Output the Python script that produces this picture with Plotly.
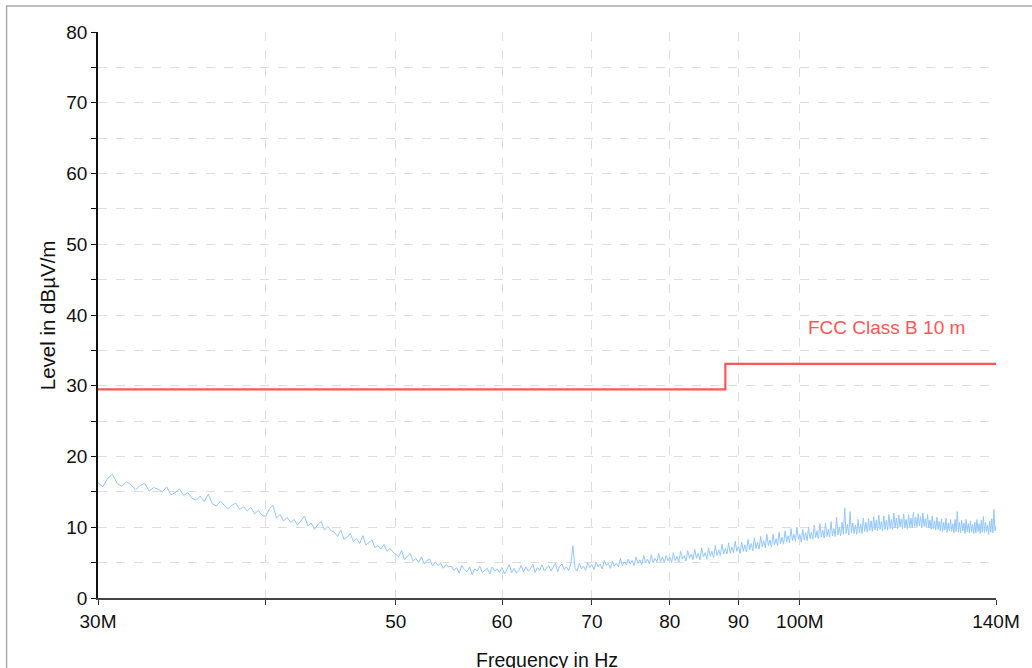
import numpy as np
import plotly.graph_objects as go

# ---- data ----
freq_start_mhz = 30.0
freq_stop_mhz = 140.0
freq_step_mhz = 0.25

level_dbuv = [
    16.3, 15.7, 16.9, 17.5, 16.2, 15.8, 16.4, 16.0, 15.3, 15.9, 16.2, 15.1, 15.6, 15.4, 15.0, 15.7, 14.6, 14.9, 15.4, 14.5,
    14.9, 14.1, 13.8, 14.4, 13.6, 14.7, 13.3, 13.0, 13.7, 13.2, 12.6, 13.1, 13.4, 12.5, 12.9, 12.3, 12.8, 11.9, 12.4, 11.7,
    11.5, 12.6, 13.1, 11.3, 11.8, 10.9, 11.4, 10.7, 11.1, 10.3, 10.9, 11.6, 10.2, 10.6, 9.7, 10.4, 10.8, 9.6, 10.1, 9.5,
    9.3, 8.7, 9.6, 8.3, 8.6, 9.1, 8.0, 8.4, 7.7, 8.8, 7.5, 7.9, 8.2, 7.1, 7.4, 6.9, 7.6, 6.6, 7.0, 6.5,
    6.2, 5.8, 6.7, 5.4, 5.9, 6.3, 5.2, 5.6, 5.0, 5.8, 4.8, 5.3, 5.5, 4.5, 5.1, 4.6, 4.9, 4.2, 4.7, 4.4,
    4.5, 3.9, 4.3, 3.5, 4.6, 4.0, 3.7, 4.4, 3.3, 4.1, 3.8, 4.5, 3.6, 3.9, 4.2, 3.4, 4.4, 3.8, 4.1, 3.6,
    4.3, 3.4, 4.0, 4.7, 3.6, 4.2, 3.5, 3.9, 4.6, 3.7, 4.4, 3.8, 4.1, 4.8, 3.6, 4.3, 3.9, 4.7, 3.8, 4.2,
    4.6, 3.8, 4.3, 4.9, 3.7, 4.5, 4.8, 4.0, 4.4, 3.9, 4.7, 7.4, 4.2, 3.8, 4.9, 4.1, 4.5, 3.9, 5.0, 4.3,
    4.7, 4.0, 5.1, 4.4, 4.8, 4.1, 5.3, 4.6, 4.9, 4.2, 5.2, 4.5, 4.9, 4.4, 5.6, 4.6, 5.1, 4.7, 5.5, 4.8,
    5.3, 4.6, 5.8, 4.9, 5.4, 4.7, 6.0, 5.0, 5.5, 4.8, 6.1, 5.0, 5.6, 5.1, 6.3, 5.1, 5.8, 5.0, 6.0, 5.3,
    5.8, 5.0, 6.4, 5.3, 5.9, 5.1, 6.6, 5.5, 6.0, 5.2, 6.7, 5.6, 6.2, 5.4, 6.9, 5.6, 6.3, 5.4, 7.1, 5.8,
    6.4, 5.5, 7.1, 5.9, 6.6, 5.7, 7.4, 6.0, 6.8, 6.0, 7.6, 6.2, 7.0, 6.2, 7.8, 6.3, 7.2, 6.4, 8.0, 6.6,
    7.3, 6.3, 7.9, 6.6, 7.5, 6.5, 8.3, 6.8, 7.7, 6.7, 8.5, 7.0, 7.9, 6.9, 8.7, 7.2, 8.1, 7.1, 9.0, 7.4,
    8.2, 7.2, 9.0, 7.5, 8.4, 7.4, 9.3, 7.7, 8.6, 7.6, 9.5, 7.9, 8.8, 7.8, 9.8, 8.1, 9.0, 8.0, 10.0, 8.3,
    9.0, 7.9, 9.7, 8.2, 9.2, 8.1, 10.0, 8.4, 9.3, 8.3, 10.3, 8.5, 9.5, 8.4, 10.5, 8.6, 9.6, 8.5, 10.6, 8.7,
    9.7, 8.6, 10.8, 8.8, 9.8, 8.7, 11.4, 8.9, 10.0, 8.8, 10.7, 9.0, 12.7, 9.1, 10.4, 8.9, 12.2, 9.2, 10.6, 9.1,
    10.3, 9.0, 11.1, 9.2, 10.5, 9.1, 11.3, 9.4, 10.7, 9.3, 11.2, 9.5, 10.9, 9.4, 11.5, 9.6, 11.0, 9.5, 11.7, 9.7,
    10.8, 9.5, 11.6, 9.7, 11.0, 9.6, 11.8, 9.8, 11.1, 9.7, 12.0, 9.9, 11.3, 9.8, 11.7, 10.0, 11.2, 9.8, 11.9, 9.9,
    11.1, 9.8, 11.8, 10.0, 11.3, 9.9, 12.1, 10.1, 11.4, 10.0, 11.9, 10.2, 11.5, 9.9, 12.0, 10.1, 11.2, 10.0, 11.8, 9.9,
    11.0, 9.7, 11.6, 9.8, 10.9, 9.6, 11.4, 9.7, 10.8, 9.5, 11.2, 9.4, 10.7, 9.6, 11.3, 9.3, 10.6, 9.5, 11.1, 9.4,
    10.5, 9.2, 11.1, 9.4, 12.2, 9.3, 10.7, 9.2, 11.0, 9.5, 10.6, 9.1, 11.1, 9.4, 10.5, 9.2, 10.9, 9.3, 10.4, 9.1,
    10.7, 9.2, 11.1, 9.4, 10.5, 9.1, 11.0, 9.3, 11.5, 9.2, 10.7, 9.4, 10.3, 9.0, 10.9, 9.3, 11.2, 9.2, 12.5, 9.5,
    10.2,
]

limit_freq_mhz = [30, 88, 88, 140]
limit_level = [29.5, 29.5, 33.1, 33.1]
limit_name = "FCC Class B 10 m"

x_tick_mhz = [30, 40, 50, 60, 70, 80, 90, 100, 140]
x_tick_text = ["30M", "", "50", "60", "70", "80", "90", "100M", "140M"]
y_tick_vals = [0, 10, 20, 30, 40, 50, 60, 70, 80]

# ---- figure ----
freq_hz = np.arange(len(level_dbuv)) * freq_step_mhz * 1e6 + freq_start_mhz * 1e6

fig = go.Figure()
fig.add_trace(go.Scatter(
    x=freq_hz, y=level_dbuv, mode="lines",
    line=dict(color="#93c6ff", width=1), showlegend=False, hoverinfo="skip"))
fig.add_trace(go.Scatter(
    x=[f * 1e6 for f in limit_freq_mhz], y=limit_level, mode="lines",
    line=dict(color="#ff5557", width=2.2), showlegend=False, name=limit_name))

font = "Liberation Sans, Arial, sans-serif"

fig.update_xaxes(
    type="log",
    range=[np.log10(freq_start_mhz * 1e6), np.log10(freq_stop_mhz * 1e6)],
    tickvals=[v * 1e6 for v in x_tick_mhz], ticktext=x_tick_text,
    ticks="outside", ticklen=5, tickcolor="#333", tickwidth=1,
    showline=True, linecolor="#444", linewidth=1.5,
    showgrid=True, gridcolor="#dedede", griddash="dash", gridwidth=1,
    zeroline=False, tickfont=dict(family=font, size=19, color="#111"),
)
fig.update_yaxes(
    range=[0, 80], tickvals=y_tick_vals,
    ticks="outside", ticklen=5, tickcolor="#111", tickwidth=1,
    showline=True, linecolor="#111", linewidth=1.5,
    showgrid=True, gridcolor="#dedede", griddash="dash", gridwidth=1,
    minor=dict(dtick=5, ticks="outside", ticklen=5, tickcolor="#111",
               showgrid=True, gridcolor="#dedede", griddash="dash", gridwidth=1),
    zeroline=False, tickfont=dict(family=font, size=19, color="#111"),
)

fig.add_annotation(xref="paper", yref="paper", x=0.5, y=-0.109, yanchor="middle",
                   text="Frequency in Hz", showarrow=False,
                   font=dict(family=font, size=19.5, color="#111"))
fig.add_annotation(xref="paper", yref="paper", x=-0.0565, y=0.5, xanchor="center",
                   yanchor="middle", textangle=-90, text="Level in dBµV/m", showarrow=False,
                   font=dict(family=font, size=20.5, color="#111"))
fig.add_annotation(xref="x", yref="y", x=np.log10(116e6), y=38.2,
                   text=limit_name, showarrow=False,
                   font=dict(family=font, size=19, color="#ff5557"))

# outer frame
fig.add_shape(type="rect", xref="paper", yref="paper",
              x0=-0.1018, x1=1.05, y0=-0.14, y1=1.0459,
              line=dict(color="#aaaaaa", width=1.5), fillcolor="rgba(0,0,0,0)")

fig.update_layout(
    width=1032, height=668,
    margin=dict(l=98, r=30, t=32, b=70),
    plot_bgcolor="white", paper_bgcolor="white",
)

fig.write_html("out.html", config={"displayModeBar": False},
               post_script="document.body.style.margin='0';document.body.style.overflow='hidden';")
